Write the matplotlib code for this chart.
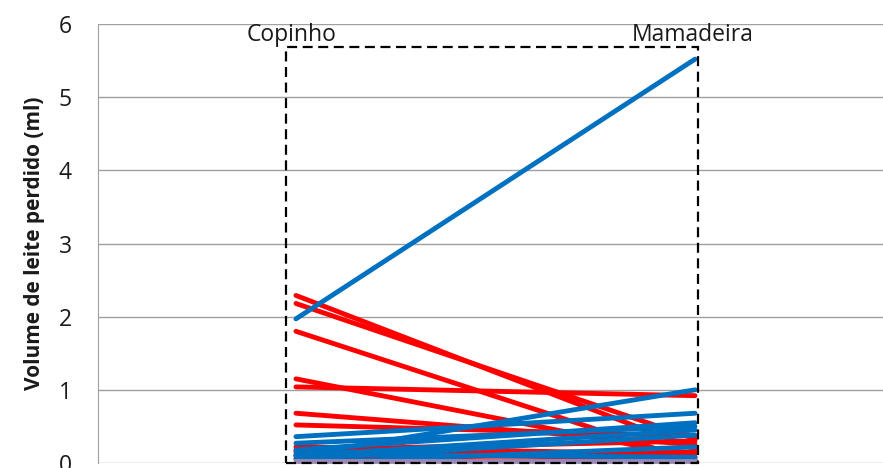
import matplotlib

matplotlib.use("Agg")

import matplotlib.pyplot as plt
from matplotlib.patches import Rectangle

plt.rcParams["font.family"] = ["Open Sans", "DejaVu Sans"]

groups = ["Copinho", "Mamadeira"]

# volume lost (ml) per infant: cup -> bottle
red_copinho = [2.29, 2.18, 1.80, 1.15, 1.04, 0.68, 0.52, 0.22, 0.15, 0.18, 0.10, 0.06]
red_mamadeira = [0.19, 0.33, 0.02, 0.08, 0.92, 0.25, 0.37, 0.12, 0.05, 0.30, 0.15, 0.00]

blue_copinho = [1.97, 0.10, 0.36, 0.27, 0.10, 0.05, 0.00, 0.18, 0.12]
blue_mamadeira = [5.52, 1.00, 0.68, 0.50, 0.45, 0.38, 0.22, 0.55, 0.08]

purple_copinho = [0.03]
purple_mamadeira = [0.03]

yticks = [0, 1, 2, 3, 4, 5, 6]

RED = "#ff0000"
BLUE = "#0070c0"
PURPLE = "#9a88b4"

fig = plt.figure(figsize=(8.83, 4.68), dpi=100)
ax = fig.add_axes([0.111, 0.0107, 0.889, 0.938])

xpos = [1, 2]
for a, b in zip(red_copinho, red_mamadeira):
    ax.plot(xpos, [a, b], color=RED, linewidth=3.5, solid_capstyle="round", zorder=3)
for a, b in zip(blue_copinho, blue_mamadeira):
    ax.plot(xpos, [a, b], color=BLUE, linewidth=3.5, solid_capstyle="round", zorder=4)
for a, b in zip(purple_copinho, purple_mamadeira):
    ax.plot(xpos, [a, b], color=PURPLE, linewidth=3.5, zorder=5, clip_on=False)

box = Rectangle((0.975, 0), 1.0325, 5.68, fill=False, edgecolor="black",
                linewidth=1.6, linestyle=(0, (4.5, 2.5)), zorder=6, clip_on=False)
ax.add_patch(box)

for x, name in zip([0.99, 1.995], groups):
    ax.text(x, 5.85, name, ha="center", va="center", fontsize=16.5, color="#1a1a1a")

ax.set_xlim(0.504, 2.471)
ax.set_ylim(0, 6)
ax.set_yticks(yticks)
ax.set_xticks([])
ax.yaxis.grid(True, color="#a0a0a0", linewidth=1.0)
ax.set_axisbelow(True)
ax.tick_params(axis="y", length=0, labelsize=16.5, pad=19, labelcolor="#1a1a1a")
for side in ["top", "right", "bottom"]:
    ax.spines[side].set_visible(False)
ax.spines["left"].set_color("#a0a0a0")
ax.set_ylabel("Volume de leite perdido (ml)", fontsize=15, fontweight="bold",
              labelpad=10, color="#1a1a1a")

fig.savefig("out.png", dpi=100)
